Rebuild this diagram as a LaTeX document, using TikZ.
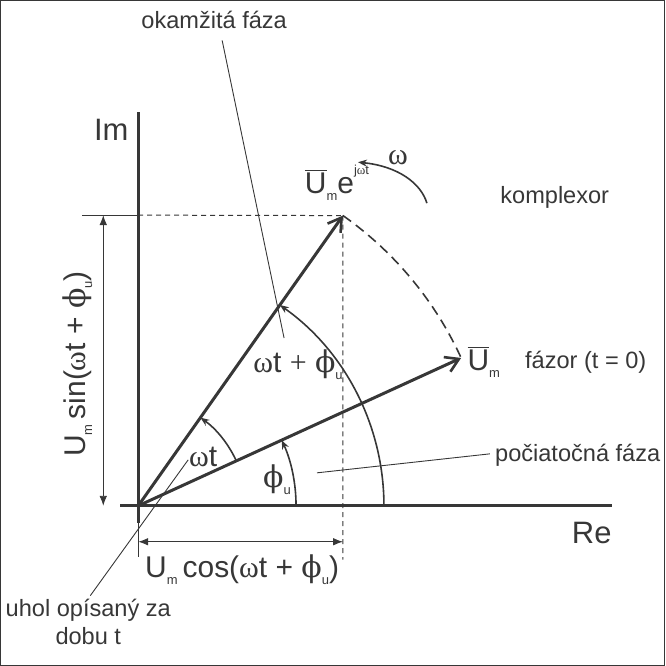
\documentclass[tikz,border=0pt]{standalone}
\usepackage{fontspec}
\setmainfont{Liberation Sans}
\newfontfamily\grkfont{Liberation Serif}
\newfontfamily\phifont{DejaVu Serif}
\usetikzlibrary{arrows.meta}
\definecolor{ink}{RGB}{55,55,55}
\newcommand{\om}{{\grkfont ω}}
\newcommand{\ph}{{\phifont ϕ}}
\newcommand{\smallsub}[1]{\raisebox{-0.45ex}{\fontsize{6.5}{6.5}\selectfont #1}}
\newcommand{\smallsup}[1]{\raisebox{1.2ex}{\fontsize{6.5}{6.5}\selectfont #1}}
\newcommand{\Ubar}{$\overline{\hbox{U}}$}
\begin{document}
\begin{tikzpicture}[x=0.5pt,y=-0.5pt,
  every path/.style={draw=ink},
  every node/.style={text=ink, inner sep=0pt},
  axisline/.style={line width=1.3pt},
  vecline/.style={line width=1.5pt, -{Straight Barb[length=6.5pt,width=8pt,line width=1.3pt]}},
  thinline/.style={line width=0.45pt},
  dimline/.style={line width=0.45pt, {Latex[length=5pt,width=3.8pt]}-{Latex[length=5pt,width=3.8pt]}},
  angline/.style={line width=0.8pt, -{Stealth[length=4.5pt,width=3.5pt]}},
  dashline/.style={line width=0.8pt, dash pattern=on 5pt off 3pt},
  dotline/.style={line width=0.5pt, dash pattern=on 2.5pt off 2pt},
  lbl/.style={font=\fontsize{11.8}{14}\selectfont},
  axlbl/.style={font=\fontsize{15.5}{18}\selectfont},
  mth/.style={font=\fontsize{15}{18}\selectfont}]
\useasboundingbox (0,0) rectangle (665,666);

% origin and tips
\coordinate (O) at (138,506);
\coordinate (A) at ([shift={(54.8:177.8pt)}]O);
\coordinate (B) at ([shift={(24.6:177.8pt)}]O);

% axes
\coordinate (imtop) at (138,112);
\coordinate (imbot) at (138,523);
\coordinate (imext) at (138,557);
\coordinate (releft) at (120,506);
\coordinate (reright) at (612,506);
\draw[axisline] (imtop) -- (imbot);
\draw[axisline] (releft) -- (reright);
\draw[thinline] (imbot) -- (imext);
\node[axlbl] (im) at (111,130) {Im};
\node[axlbl] (re) at (592,533) {Re};

% projection lines
\coordinate (hl) at (82,215);
\coordinate (hm) at (138,215);
\coordinate (vb) at (343,560);
\draw[thinline] (hl) -- (hm);
\draw[dotline] (hm) -- (A);
\draw[dotline] (A) -- (vb);

% dimensions
\coordinate (d1) at (103,215);
\coordinate (d2) at (103,506);
\draw[dimline] (d1) -- (d2);
\coordinate (d3) at (138,542);
\coordinate (d4) at (343,542);
\draw[dimline] (d3) -- (d4);

% dashed arc of rotation
\draw[dashline] (A) arc[start angle=54.8, end angle=24.6, radius=177.8pt];

% vectors
\draw[vecline] (O) -- (A);
\draw[vecline] (O) -- (B);

% angle arcs
\draw[angline] ([shift={(0:79pt)}]O) arc[start angle=0, end angle=24.6, radius=79pt];
\draw[angline] ([shift={(24.6:54pt)}]O) arc[start angle=24.6, end angle=54.8, radius=54pt];
\draw[angline] ([shift={(0:123pt)}]O) arc[start angle=0, end angle=54.8, radius=123pt];

% omega rotation arrow
\coordinate (w1) at (427,203);
\coordinate (w2) at (358,162);
\draw[angline] (w1) .. controls (421,183) and (398,166) .. (w2);

% labels
\node[mth, rotate=90] (sinl) at (77,364) {U\smallsub{m}\,sin(\om t + \ph\smallsub{u})};
\node[mth] (cosl) at (242,570) {U\smallsub{m}\,cos(\om t + \ph\smallsub{u})};
\node[mth] (wtphi) at (298,365) {\om t {\grkfont +} \ph\smallsub{u}};
\node[mth] (wt) at (203,457) {\om t};
\node[mth] (phiu) at (277,480) {\ph\smallsub{u}};
\node[mth] (ue) at (337,183) {\Ubar\smallsub{m}e\smallsup{j\om t}};
\node[mth] (um) at (484,362) {\Ubar\smallsub{m}};
\node[lbl] (fazor) at (586,362) {fázor (t = 0)};
\node[lbl] (kompl) at (555,197) {komplexor};
\node[mth] (omega) at (398,157) {\om};
\node[lbl] (okam) at (214,20) {okamžitá fáza};
\node[lbl] (poc) at (578,455) {počiatočná fáza};
\node[lbl, align=center] (uhol) at (88,622) {uhol opísaný za\\dobu t};

% leader lines
\coordinate (ok1) at (222,40);
\coordinate (ok2) at (284,338);
\draw[thinline] (ok1) -- (ok2);
\coordinate (pc1) at (490,454);
\coordinate (pc2) at (317,473);
\draw[thinline] (pc1) -- (pc2);
\coordinate (uh1) at (188,460);
\coordinate (uh2) at (90,596);
\draw[thinline] (uh1) -- (uh2);
\end{tikzpicture}
\end{document}
